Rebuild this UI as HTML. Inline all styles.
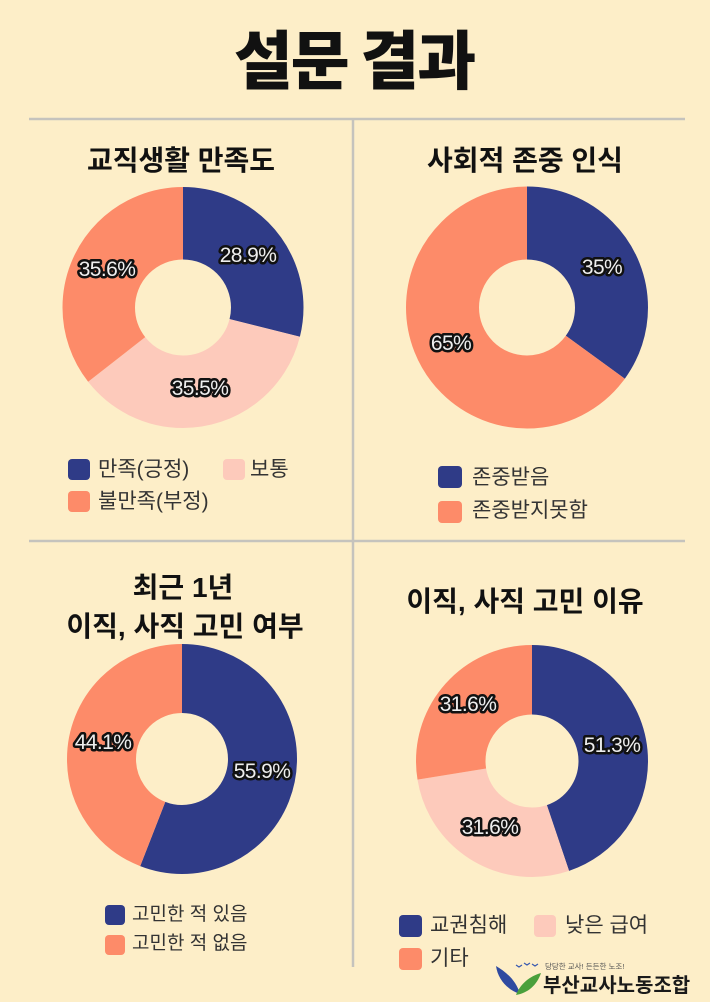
<!DOCTYPE html>
<html>
<head>
<meta charset="utf-8">
<style>
html,body{margin:0;padding:0;background:#fdeec8;}
body{width:710px;height:1002px;overflow:hidden;}
svg{display:block;}
.t{font-family:"Liberation Sans","Noto Sans CJK KR",sans-serif;font-weight:700;fill:#111;text-anchor:middle;}
.lg{font-family:"Liberation Sans","Noto Sans CJK KR",sans-serif;fill:#333;}
.lb{font-family:"Liberation Sans","DejaVu Sans",sans-serif;font-size:21px;fill:#eeeeee;stroke:#111;stroke-width:5;paint-order:stroke;stroke-linejoin:round;text-anchor:middle;letter-spacing:-0.6px;}
</style>
</head>
<body>
<svg width="710" height="1002" viewBox="0 0 710 1002" xmlns="http://www.w3.org/2000/svg">
<rect width="710" height="1002" fill="#fdeec8"/>

<!-- main title -->
<text x="354" y="84" class="t" style="font-size:64px;font-weight:900;letter-spacing:-2px;font-family:'Noto Sans CJK KR','Liberation Sans',sans-serif;">설문 결과</text>

<!-- dividers -->
<line x1="29" y1="119" x2="685" y2="119" stroke="#c5c3bd" stroke-width="2.5"/>
<line x1="29" y1="541" x2="685" y2="541" stroke="#c5c3bd" stroke-width="2.5"/>
<line x1="353" y1="119" x2="353" y2="967" stroke="#c5c3bd" stroke-width="2.5"/>

<!-- section titles -->
<text x="181" y="170" class="t" style="font-size:28px;">교직생활 만족도</text>
<text x="525" y="170" class="t" style="font-size:28px;">사회적 존중 인식</text>
<text x="183" y="597" class="t" style="font-size:28px;">최근 1년</text>
<text x="185" y="636" class="t" style="font-size:28px;">이직, 사직 고민 여부</text>
<text x="525" y="611" class="t" style="font-size:28px;">이직, 사직 고민 이유</text>

<!-- Chart 1 -->
<g transform="rotate(-90 183 307.5)" fill="none" stroke-width="72.5">
  <circle cx="183" cy="307.5" r="84.25" stroke="#2f3b87" stroke-dasharray="152.98 600" stroke-dashoffset="0"/>
  <circle cx="183" cy="307.5" r="84.25" stroke="#fdcabb" stroke-dasharray="187.92 600" stroke-dashoffset="-152.98"/>
  <circle cx="183" cy="307.5" r="84.25" stroke="#fd8b69" stroke-dasharray="188.46 600" stroke-dashoffset="-340.90"/>
</g>
<text x="248" y="262" class="lb">28.9%</text>
<text x="107" y="276" class="lb">35.6%</text>
<text x="200" y="395" class="lb">35.5%</text>

<!-- Chart 2 -->
<g transform="rotate(-90 527 307.5)" fill="none" stroke-width="73">
  <circle cx="527" cy="307.5" r="84.5" stroke="#2f3b87" stroke-dasharray="185.83 600" stroke-dashoffset="0"/>
  <circle cx="527" cy="307.5" r="84.5" stroke="#fd8b69" stroke-dasharray="345.10 600" stroke-dashoffset="-185.83"/>
</g>
<text x="602" y="274" class="lb">35%</text>
<text x="451" y="350" class="lb">65%</text>

<!-- Chart 3 -->
<g transform="rotate(-90 182 759)" fill="none" stroke-width="69">
  <circle cx="182" cy="759" r="80.5" stroke="#2f3b87" stroke-dasharray="282.74 600" stroke-dashoffset="0"/>
  <circle cx="182" cy="759" r="80.5" stroke="#fd8b69" stroke-dasharray="223.06 600" stroke-dashoffset="-282.74"/>
</g>
<text x="103" y="749" class="lb">44.1%</text>
<text x="262" y="778" class="lb">55.9%</text>

<!-- Chart 4 -->
<g transform="rotate(-90 532 761)" fill="none" stroke-width="69.5">
  <circle cx="532" cy="761" r="81.25" stroke="#2f3b87" stroke-dasharray="228.72 600" stroke-dashoffset="0"/>
  <circle cx="532" cy="761" r="81.25" stroke="#fdcabb" stroke-dasharray="140.89 600" stroke-dashoffset="-228.72"/>
  <circle cx="532" cy="761" r="81.25" stroke="#fd8b69" stroke-dasharray="140.90 600" stroke-dashoffset="-369.61"/>
</g>
<text x="468" y="711" class="lb">31.6%</text>
<text x="612" y="752" class="lb">51.3%</text>
<text x="490" y="834" class="lb">31.6%</text>

<!-- Legends chart 1 -->
<rect x="68" y="459" width="22" height="21" rx="4" fill="#2f3b87"/>
<text x="98" y="476" class="lg" style="font-size:21px;">만족(긍정)</text>
<rect x="223" y="459" width="22" height="21" rx="4" fill="#fdcabb"/>
<text x="250" y="476" class="lg" style="font-size:21px;">보통</text>
<rect x="68" y="491" width="22" height="21" rx="4" fill="#fd8b69"/>
<text x="98" y="508" class="lg" style="font-size:21px;">불만족(부정)</text>

<!-- Legends chart 2 -->
<rect x="438" y="466" width="24" height="22" rx="4" fill="#2f3b87"/>
<text x="472" y="484" class="lg" style="font-size:21px;">존중받음</text>
<rect x="438" y="501" width="24" height="22" rx="4" fill="#fd8b69"/>
<text x="472" y="517" class="lg" style="font-size:21px;">존중받지못함</text>

<!-- Legends chart 3 -->
<rect x="105" y="905" width="20" height="20" rx="4" fill="#2f3b87"/>
<text x="132" y="920" class="lg" style="font-size:19px;">고민한 적 있음</text>
<rect x="105" y="935" width="20" height="20" rx="4" fill="#fd8b69"/>
<text x="132" y="949" class="lg" style="font-size:19px;">고민한 적 없음</text>

<!-- Legends chart 4 -->
<rect x="399" y="915" width="23" height="22" rx="4" fill="#2f3b87"/>
<text x="430" y="932" class="lg" style="font-size:21px;">교권침해</text>
<rect x="534" y="915" width="22" height="22" rx="4" fill="#fdcabb"/>
<text x="565" y="932" class="lg" style="font-size:21px;">낮은 급여</text>
<rect x="399" y="948" width="23" height="22" rx="4" fill="#fd8b69"/>
<text x="430" y="965" class="lg" style="font-size:21px;">기타</text>

<!-- Logo -->
<path d="M496 966 C 506 972, 516 980, 520 994 C 508 990, 498 980, 496 966 Z" fill="#2f4aa0"/>
<path d="M541 973 C 530 976, 520 984, 516 995 C 528 993, 537 985, 541 973 Z" fill="#4aa03c"/>
<path d="M516 965 l3 2 l3 -2 M524 963 l3 2 l3 -2 M532 964 l3 2 l3 -2" stroke="#3a5ab0" stroke-width="1.2" fill="none"/>
<text x="545" y="969" class="lg" style="font-size:7.5px;fill:#555;">당당한 교사! 든든한 노조!</text>
<text x="543" y="992" class="lg" style="font-size:20px;font-weight:700;fill:#1a1a1a;">부산교사노동조합</text>
</svg>
</body>
</html>
